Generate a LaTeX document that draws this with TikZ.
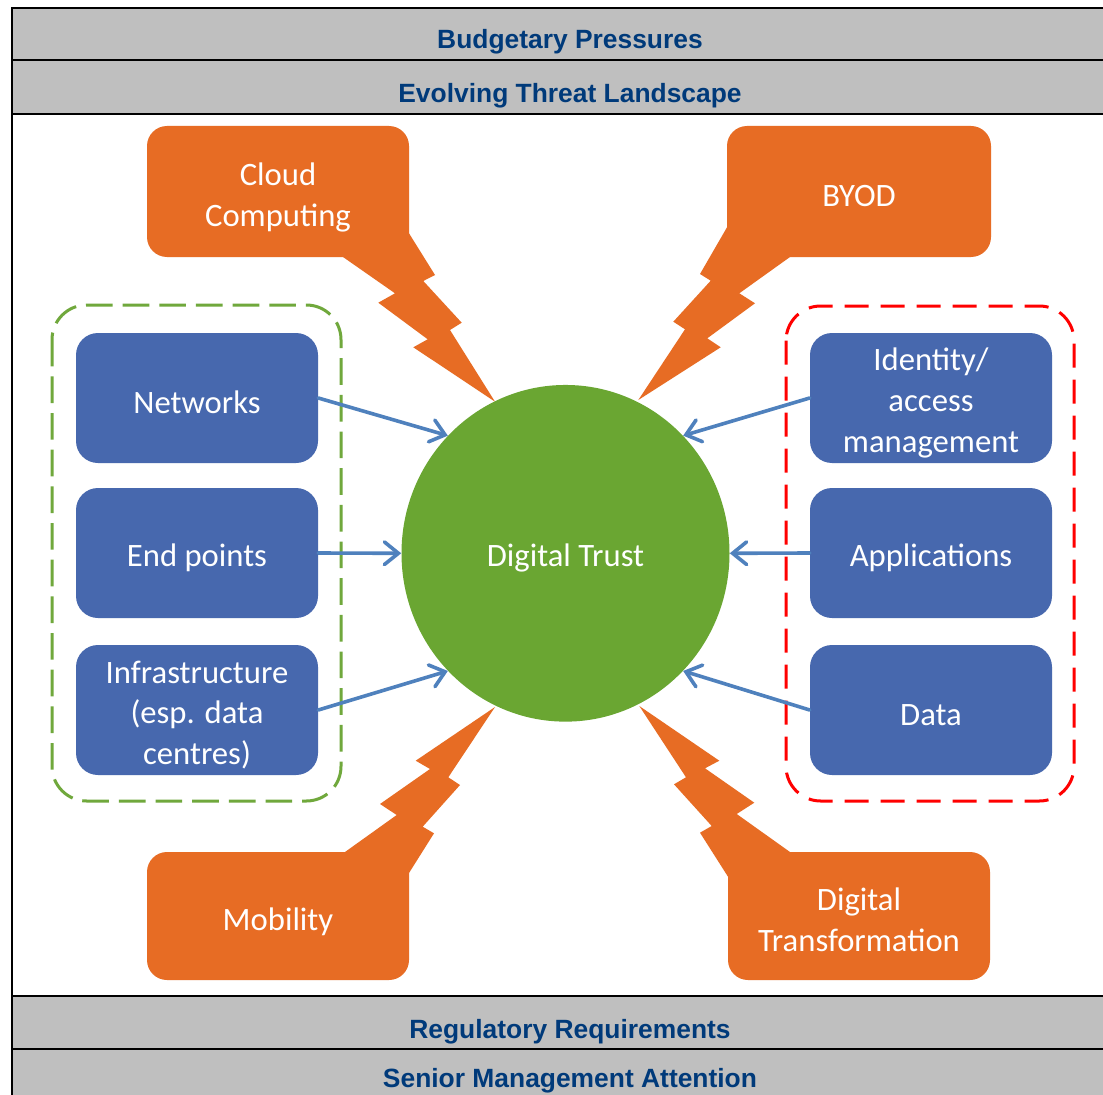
\documentclass[tikz,border=0pt]{standalone}
\usepackage{fontspec}
\setmainfont{Carlito}
\newfontfamily\barfont{Liberation Sans}
\usetikzlibrary{arrows.meta,shapes.geometric}
\definecolor{boxblue}{RGB}{71,104,174}
\definecolor{trustgreen}{RGB}{106,166,50}
\definecolor{callorange}{RGB}{231,108,36}
\definecolor{arrowblue}{RGB}{79,129,189}
\definecolor{dashgreen}{RGB}{112,168,60}
\definecolor{barfill}{RGB}{191,191,191}
\definecolor{bartextblue}{RGB}{0,58,122}
\begin{document}
\begin{tikzpicture}[x=0.75pt,y=-0.75pt,
  bodyfont/.style={font=\fontsize{24.5pt}{30.5pt}\selectfont},
  bartext/.style={font=\barfont\bfseries\fontsize{19.8pt}{24pt}\selectfont, text=bartextblue, inner sep=0pt},
  frame/.style={line width=1.5pt, draw=black},
  bluebox/.style={fill=boxblue, rounded corners=16.5pt,
    minimum width=181.5pt, minimum height=97.5pt, inner sep=0pt},
  boxlabel/.style={bodyfont, text=white, align=center, inner sep=0pt},
  calltext/.style={bodyfont, text=white, align=center, inner sep=0pt},
  callfill/.style={fill=callorange},
  trust/.style={ellipse, fill=trustgreen,
    minimum width=246pt, minimum height=252.5pt, inner sep=0pt},
  arr/.style={draw=arrowblue, line width=2.7pt, line cap=round,
    -{Straight Barb[length=10.5pt,width=17pt,line cap=round]}},
  grpgreen/.style={draw=dashgreen, line width=2.25pt, rounded corners=26pt,
    dash pattern=on 20pt off 7.5pt},
  grpred/.style={draw=red, line width=2.25pt, rounded corners=26pt,
    dash pattern=on 18pt off 9pt}
]
\clip (0,0) rectangle (1103,1095);
\fill[white] (0,0) rectangle (1103,1095);

% bars
\fill[barfill] (12,8) rectangle (1130,60);
\fill[barfill] (12,60) rectangle (1130,114);
\fill[barfill] (12,996) rectangle (1130,1049);
\fill[barfill] (12,1049) rectangle (1130,1100);
\draw[frame] (12,1100) -- (12,8) -- (1130,8);
\draw[frame, line width=2pt] (12,60) -- (1130,60);
\draw[frame] (12,114) -- (1130,114);
\draw[frame] (12,996) -- (1130,996);
\draw[frame, line width=2pt] (12,1049) -- (1130,1049);
\node[bartext] (b1) at (570,42) {Budgetary Pressures};
\node[bartext] (b2) at (570,96) {Evolving Threat Landscape};
\node[bartext] (b3) at (570,1032) {Regulatory Requirements};
\node[bartext] (b4) at (570,1081) {Senior Management Attention};

% group frames
\draw[grpgreen] (52,305) rectangle (341,801);
\draw[grpred] (786,306) rectangle (1074,801);

% callouts
\fill[callfill, rounded corners=15pt] (147,126) rectangle (409,257);
\fill[callfill] (343,257) -- (395,293.3) -- (378.3,302.7) -- (427.7,339.3) -- (413.3,347.3)
  -- (495,401.7) -- (450,330) -- (461.7,322.7) -- (423.3,281) -- (435,275)
  -- (409,233.3) -- (375,235) -- cycle;

\fill[callfill, rounded corners=15pt] (727,126) rectangle (991,257);
\fill[callfill] (790,257) -- (739.3,293.3) -- (755,303.3) -- (707.3,338.3) -- (720.7,347.3)
  -- (638.3,400) -- (685,329.3) -- (673.3,321.7) -- (710.7,280.7) -- (700,274)
  -- (727,227.3) -- (760,230) -- cycle;

\fill[callfill, rounded corners=15pt] (147,852) rectangle (409,980);
\fill[callfill] (345,852) -- (396.7,815) -- (380,804) -- (430,769) -- (415.7,760.7)
  -- (495,707) -- (448.3,777.3) -- (460,785) -- (422.7,826.7) -- (434,833.3)
  -- (409,873) -- (375,875) -- cycle;

\fill[callfill, rounded corners=15pt] (728,852) rectangle (990,980);
\fill[callfill] (790,852) -- (736.7,814) -- (754.3,802.7) -- (705,768.3) -- (719.3,760.7)
  -- (639.3,706) -- (686,777.3) -- (674,784.3) -- (711.7,826) -- (700,832.7)
  -- (728,876.7) -- (760,878) -- cycle;

\node[calltext] (cloud) at (278,197.5) {Cloud\\Computing};
\node[calltext] (byod) at (859,196) {BYOD};
\node[calltext] (mob) at (278,921.5) {Mobility};
\node[calltext] (dtr) at (859,920) {Digital\\Transformation};

% center
\node[trust] (dt) at (565.5,553.3) {};
\node[boxlabel] (dtl) at (565.5,558) {Digital Trust};

% blue boxes
\node[bluebox] (net) at (197,398) {};
\node[bluebox] (end) at (197,553) {};
\node[bluebox] (inf) at (197,710) {};
\node[bluebox] (idm) at (931,398) {};
\node[bluebox] (app) at (931,553) {};
\node[bluebox] (dat) at (931,710) {};
\node[boxlabel] (netl) at (197,402) {Networks};
\node[boxlabel] (endl) at (197,558) {End points};
\node[boxlabel] (infl) at (197,715) {Infrastructure\\(esp. data\\centres)};
\node[boxlabel] (idml) at (931,403) {Identity/\\access\\management};
\node[boxlabel] (appl) at (931,558) {Applications};
\node[boxlabel] (datl) at (931,715) {Data};

% arrows
\draw[arr] (net.east) -- (dt.135);
\draw[arr] (end.east) -- (dt.180);
\draw[arr] (inf.east) -- (dt.225);
\draw[arr] (idm.west) -- (dt.45);
\draw[arr] (app.west) -- (dt.0);
\draw[arr] (dat.west) -- (dt.-45);
\end{tikzpicture}
\end{document}
